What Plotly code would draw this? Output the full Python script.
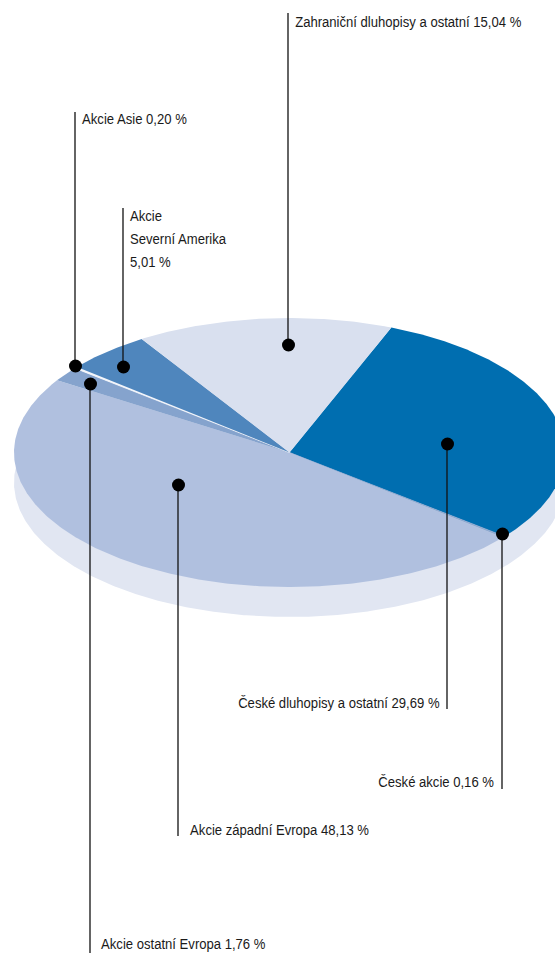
import math
import plotly.graph_objects as go

# Data, in drawing order (clockwise)
categories = ["České dluhopisy a ostatní", "České akcie", "Akcie západní Evropa",
              "Akcie ostatní Evropa", "Akcie Asie", "Akcie Severní Amerika",
              "Zahraniční dluhopisy a ostatní"]
shares = [29.69, 0.16, 48.13, 1.76, 0.20, 5.01, 15.04]
value_labels = ["29,69 %", "0,16 %", "48,13 %", "1,76 %", "0,20 %", "5,01 %", "15,04 %"]

# Styles and geometry
colors = ["#006eb0", "#8fa9d0", "#b0c0df", "#85a3cd", "#f4f6fb", "#4f86bd", "#d9e0ef"]
SHADOW = "#e1e6f2"
CX, CY, RX, RY, DROP = 289.5, 452.5, 275.5, 134.5, 30
START = 21.7
FONT = "Liberation Sans, Arial"
FSIZE = 15.5
NARROW = 0.845

# leader x, top y, bottom y, dot y, text x, text y, anchor
leaders = [
    (447, 443, 709, 444, 440, 702, "right"),
    (502, 533, 789, 534, 494, 781, "right"),
    (178, 484, 836, 485, 190, 829, "left"),
    (90, 383, 953, 384, 101, 943, "left"),
    (75, 112, 365, 366, 82, 118, "left"),
    (123, 208, 366, 367, 130, 215, "left"),
    (288, 13, 344, 345, 295, 21, "left"),
]


def arc(a0, a1, dy=0.0):
    n = max(2, int(abs(a1 - a0) * 2))
    xs, ys = [], []
    for i in range(n + 1):
        a = math.radians(a0 + (a1 - a0) * i / n)
        xs.append(CX + RX * math.sin(a))
        ys.append(CY + dy - RY * math.cos(a))
    return xs, ys


fig = go.Figure()

# extruded edge
xs, ys = arc(0, 360, DROP)
fig.add_trace(go.Scatter(x=xs, y=ys, mode="lines", fill="toself", fillcolor=SHADOW,
                         line=dict(width=0), hoverinfo="skip", showlegend=False))

# slices
total = sum(shares)
angle = START
for name, share, color in zip(categories, shares, colors):
    sweep = share / total * 360
    xs, ys = arc(angle, angle + sweep)
    fig.add_trace(go.Scatter(x=[CX] + xs + [CX], y=[CY] + ys + [CY], mode="lines", fill="toself",
                             fillcolor=color, line=dict(width=0.6 if share < 1 else 0, color=color),
                             name=name, showlegend=False))
    angle += sweep

# leaders, dots, labels
annotations = []
for (lx, y0, y1, dy, tx, ty, anchor), name, lab in zip(leaders, categories, value_labels):
    fig.add_trace(go.Scatter(x=[lx, lx], y=[y0, y1], mode="lines",
                             line=dict(color="#111111", width=1.3), hoverinfo="skip", showlegend=False))
    fig.add_trace(go.Scatter(x=[lx + 0.5], y=[dy], mode="markers",
                             marker=dict(color="#000000", size=13), hoverinfo="skip", showlegend=False))
    if name == "Akcie Severní Amerika":
        parts = ["Akcie", "Severní Amerika", lab]
    else:
        parts = [f"{name} {lab}"]
    for i, part in enumerate(parts):
        annotations.append(dict(x=tx - 2 if anchor == "left" else tx + 2, y=ty + i * 23, text=part,
                                showarrow=False, xref="x", yref="y",
                                xanchor=anchor, yanchor="middle",
                                font=dict(family=FONT, size=FSIZE, color="#1a1a1a")))

fig.update_layout(
    width=555, height=954, autosize=False,
    margin=dict(l=0, r=0, t=0, b=0),
    paper_bgcolor="white", plot_bgcolor="white",
    xaxis=dict(range=[0, 555], visible=False, fixedrange=True),
    yaxis=dict(range=[954, 0], visible=False, fixedrange=True),
    annotations=annotations,
)

# remove the page margin; condense labels horizontally (no narrow face is installed)
post = """
document.body.style.margin = '0';
document.querySelectorAll('.annotation-text').forEach(function (t) {
  var b = t.getBBox();
  var right = /29,69|0,16/.test(t.textContent);
  var ax = right ? b.x + b.width : b.x;
  t.setAttribute('transform', 'translate(' + ax + ',0) scale(%s,1) translate(' + (-ax) + ',0)');
});
""" % NARROW
fig.write_html("out.html", config={"displayModeBar": False}, post_script=post)
